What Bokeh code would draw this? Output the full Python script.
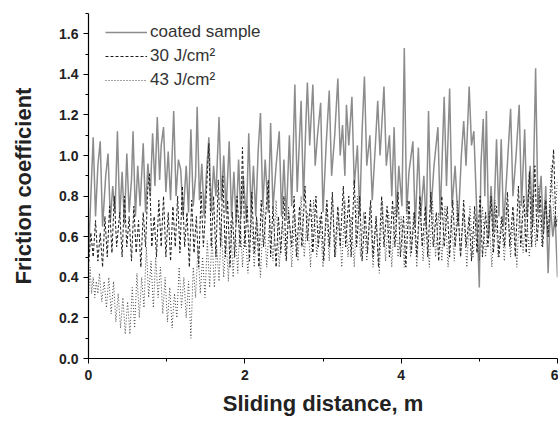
from bokeh.plotting import figure
from bokeh.models import Range1d, FixedTicker, PrintfTickFormatter, Legend, LegendItem
from bokeh.embed import file_html
from bokeh.resources import INLINE

# ---- data ----
coated_x = [0.00,0.03,0.06,0.09,0.12,0.15,0.18,0.22,0.25,0.28,0.31,0.34,0.37,0.40,0.43,0.46,0.49,0.52,0.55,0.57,
            0.60,0.63,0.66,0.70,0.73,0.76,0.79,0.82,0.85,0.88,0.91,0.93,0.96,0.99,1.02,1.05,1.09,1.12,1.15,1.18,
            1.21,1.25,1.28,1.31,1.34,1.37,1.39,1.42,1.45,1.48,1.51,1.54,1.57,1.60,1.63,1.67,1.70,1.73,1.76,1.80,
            1.83,1.86,1.89,1.92,1.95,1.98,2.02,2.05,2.08,2.11,2.14,2.17,2.20,2.23,2.26,2.30,2.33,2.36,2.40,2.44,
            2.47,2.50,2.53,2.57,2.60,2.64,2.67,2.72,2.75,2.78,2.80,2.83,2.87,2.90,2.93,2.97,3.00,3.04,3.08,3.11,
            3.15,3.19,3.22,3.25,3.28,3.30,3.33,3.37,3.40,3.44,3.47,3.50,3.53,3.56,3.60,3.63,3.67,3.70,3.73,3.78,
            3.81,3.85,3.88,3.91,3.94,3.97,4.01,4.04,4.07,4.10,4.15,4.18,4.22,4.25,4.29,4.32,4.35,4.38,4.42,4.47,
            4.50,4.55,4.58,4.62,4.65,4.69,4.73,4.77,4.80,4.83,4.87,4.90,4.93,4.96,5.00,5.02,5.05,5.07,5.09,5.12,
            5.15,5.18,5.22,5.25,5.28,5.31,5.35,5.40,5.43,5.47,5.51,5.54,5.58,5.61,5.65,5.68,5.72,5.75,5.79,5.82,
            5.85,5.88,5.91,5.94,5.97,6.00]
coated_y = [0.50,0.80,1.09,0.70,0.95,1.07,0.65,0.90,1.01,0.68,0.85,0.72,1.12,0.70,0.92,0.66,1.01,0.72,0.88,1.12,
            0.70,0.95,0.75,1.06,0.72,0.96,0.80,1.11,0.85,1.19,0.88,1.05,1.14,0.82,1.02,0.78,1.22,0.80,0.98,0.93,
            0.70,0.95,0.72,1.13,0.75,0.90,1.24,0.78,0.96,0.70,0.92,1.09,0.72,0.95,0.80,1.19,0.78,1.00,0.72,1.07,
            0.70,0.92,0.66,0.98,0.70,0.90,0.68,1.11,0.72,0.95,0.70,1.02,1.21,0.75,0.98,0.72,1.16,0.74,0.95,1.12,
            0.70,0.98,0.68,1.10,0.75,1.35,0.82,1.27,0.78,1.15,1.36,1.05,1.35,0.95,1.10,1.26,0.72,1.05,1.32,0.90,
            1.10,1.38,1.00,1.15,0.90,1.25,1.05,1.29,0.85,1.05,0.70,1.12,1.39,0.95,1.10,0.78,1.05,1.27,1.00,1.34,
            0.95,1.10,0.80,1.14,0.70,0.95,0.75,1.53,0.72,0.92,1.07,0.65,1.04,0.70,0.90,0.65,1.22,0.72,0.95,1.14,
            0.70,1.29,0.85,1.33,0.75,0.95,0.66,1.00,1.17,0.95,1.34,1.05,1.12,0.80,0.35,0.95,1.18,0.80,1.22,0.60,
            0.85,0.62,1.08,0.70,1.08,0.65,0.90,1.23,0.80,1.00,1.25,0.75,1.13,0.70,0.95,0.65,1.43,0.72,0.90,0.62,
            0.85,0.42,0.75,0.60,0.70,0.40]

j30_x = [0.00,0.03,0.06,0.09,0.12,0.15,0.18,0.21,0.24,0.27,0.30,0.33,0.36,0.40,0.43,0.46,0.49,0.52,0.55,0.58,
         0.61,0.64,0.67,0.70,0.73,0.76,0.78,0.81,0.84,0.87,0.90,0.93,0.96,0.99,1.02,1.05,1.08,1.11,1.14,1.17,
         1.20,1.23,1.26,1.29,1.32,1.35,1.38,1.41,1.44,1.47,1.50,1.54,1.57,1.60,1.63,1.66,1.69,1.72,1.75,1.78,
         1.81,1.84,1.87,1.90,1.94,1.97,2.00,2.03,2.06,2.09,2.12,2.15,2.18,2.21,2.24,2.27,2.30,2.33,2.36,2.40,
         2.43,2.46,2.50,2.53,2.56,2.60,2.63,2.66,2.70,2.73,2.77,2.80,2.84,2.87,2.91,2.94,2.98,3.01,3.05,3.08,
         3.12,3.15,3.19,3.22,3.26,3.29,3.33,3.36,3.40,3.43,3.47,3.50,3.54,3.57,3.61,3.64,3.68,3.71,3.75,3.78,
         3.82,3.85,3.89,3.92,3.96,3.99,4.03,4.06,4.10,4.13,4.17,4.20,4.24,4.27,4.31,4.34,4.38,4.41,4.45,4.48,
         4.52,4.55,4.59,4.62,4.66,4.69,4.73,4.76,4.80,4.83,4.87,4.90,4.94,4.97,5.01,5.04,5.08,5.11,5.15,5.18,
         5.22,5.25,5.29,5.32,5.36,5.39,5.43,5.46,5.50,5.53,5.57,5.60,5.64,5.67,5.71,5.74,5.78,5.81,5.85,5.88,
         5.92,5.95,5.98,6.00]
j30_y = [0.45,0.62,0.50,0.68,0.48,0.62,0.45,0.70,0.50,0.75,0.52,0.80,0.55,0.72,0.50,0.80,0.55,0.70,0.48,0.75,
         0.52,0.68,0.45,0.72,0.55,0.85,0.91,0.55,0.70,0.50,0.78,0.55,0.80,0.50,0.72,0.48,0.75,0.55,0.80,0.52,
         0.85,0.55,0.72,0.45,0.78,0.52,0.70,0.45,0.82,0.55,0.75,1.06,0.55,0.80,0.50,0.88,0.55,0.90,0.50,0.78,
         0.45,0.72,0.50,0.80,0.55,1.04,0.55,0.75,0.48,0.82,0.52,0.70,0.45,0.78,0.55,0.72,0.88,0.50,0.75,0.45,
         0.70,0.52,0.80,0.48,0.72,0.55,0.80,0.50,0.75,0.55,0.85,0.58,0.78,0.52,0.80,0.55,0.72,0.48,0.78,0.55,
         0.82,0.50,0.75,0.55,0.85,0.55,0.80,0.50,0.88,0.55,0.80,0.48,0.72,0.52,0.78,0.50,0.70,0.45,0.80,0.55,
         0.75,0.50,0.78,0.55,0.82,0.50,0.70,0.45,0.78,0.52,0.72,0.50,0.80,0.55,0.75,0.50,0.82,0.55,0.72,0.48,
         0.80,0.55,0.75,0.50,0.78,0.55,0.72,0.50,0.78,0.55,0.70,0.48,0.75,0.52,0.80,0.50,0.72,0.55,0.80,0.52,
         0.75,0.50,0.70,0.55,0.82,0.55,0.75,0.50,0.85,0.55,0.80,0.52,0.92,0.55,0.95,0.58,0.80,0.55,0.78,0.60,
         0.85,1.03,0.65,0.70]

j43_x = [0.00,0.02,0.04,0.06,0.08,0.10,0.12,0.14,0.17,0.20,0.23,0.26,0.29,0.32,0.35,0.38,0.41,0.44,0.47,0.50,
         0.53,0.56,0.59,0.62,0.65,0.68,0.71,0.74,0.77,0.80,0.83,0.86,0.89,0.92,0.95,0.98,1.01,1.04,1.07,1.10,
         1.13,1.16,1.19,1.22,1.25,1.28,1.31,1.34,1.37,1.40,1.43,1.46,1.49,1.52,1.55,1.58,1.61,1.64,1.67,1.70,
         1.73,1.76,1.79,1.82,1.85,1.88,1.91,1.94,1.97,2.00,2.04,2.08,2.12,2.16,2.20,2.24,2.28,2.32,2.36,2.40,
         2.44,2.48,2.52,2.56,2.60,2.64,2.68,2.72,2.76,2.80,2.84,2.88,2.92,2.96,3.00,3.04,3.08,3.12,3.16,3.20,
         3.24,3.28,3.32,3.36,3.40,3.44,3.48,3.52,3.56,3.60,3.64,3.68,3.72,3.76,3.80,3.84,3.88,3.92,3.96,4.00,
         4.04,4.08,4.12,4.16,4.20,4.24,4.28,4.32,4.36,4.40,4.44,4.48,4.52,4.56,4.60,4.64,4.68,4.72,4.76,4.80,
         4.84,4.88,4.92,4.96,5.00,5.04,5.08,5.12,5.16,5.20,5.24,5.28,5.32,5.36,5.40,5.44,5.48,5.52,5.56,5.60,
         5.64,5.68,5.72,5.76,5.80,5.84,5.88,5.92,5.96,6.00]
j43_y = [0.30,0.45,0.32,0.40,0.30,0.38,0.32,0.42,0.28,0.38,0.25,0.40,0.22,0.38,0.18,0.32,0.15,0.30,0.12,0.28,
         0.12,0.35,0.15,0.42,0.20,0.40,0.25,0.55,0.30,0.48,0.25,0.50,0.30,0.45,0.22,0.40,0.18,0.35,0.15,0.32,
         0.20,0.45,0.25,0.40,0.20,0.38,0.10,0.45,0.30,0.55,0.32,0.50,0.30,0.58,0.35,0.60,0.35,0.55,0.38,0.65,
         0.40,0.60,0.38,0.68,0.40,0.62,0.42,0.70,0.45,0.65,0.42,0.72,0.45,0.68,0.40,0.75,0.45,0.70,0.48,0.78,
         0.45,0.68,0.50,0.75,0.45,0.70,0.48,0.80,0.50,0.72,0.45,0.78,0.50,0.70,0.45,0.75,0.48,0.80,0.50,0.72,
         0.45,0.78,0.50,0.70,0.45,0.80,0.50,0.72,0.48,0.75,0.45,0.70,0.42,0.78,0.48,0.72,0.45,0.75,0.50,0.70,
         0.45,0.78,0.50,0.72,0.45,0.75,0.48,0.70,0.45,0.78,0.50,0.72,0.48,0.75,0.45,0.70,0.48,0.78,0.50,0.72,
         0.45,0.75,0.50,0.70,0.48,0.75,0.50,0.72,0.45,0.78,0.50,0.70,0.48,0.75,0.50,0.72,0.45,0.78,0.52,0.75,
         0.50,0.80,0.55,0.85,0.55,0.78,0.60,0.95,0.65,0.88]

x_ticks = [0, 2, 4, 6]
y_ticks = [0.0, 0.2, 0.4, 0.6, 0.8, 1.0, 1.2, 1.4, 1.6]
labels = ["coated sample", "30 J/cm\u00b2", "43 J/cm\u00b2"]

FONT = "Liberation Sans"

p = figure(width=558, height=423, output_backend="svg", toolbar_location=None,
           x_range=Range1d(0, 6), y_range=Range1d(0, 1.7),
           min_border_left=88, min_border_right=1, min_border_top=13, min_border_bottom=65)
p.outline_line_color = None
p.xgrid.visible = False
p.ygrid.visible = False
p.background_fill_color = "white"

r1 = p.line(coated_x, coated_y, line_color="#8c8c8c", line_width=1.5)
r2 = p.line(j30_x, j30_y, line_color="#1a1a1a", line_width=1.0, line_dash="3 2")
r3 = p.line(j43_x, j43_y, line_color="#444444", line_width=1.0, line_dash="1 2")

for ax in (p.xaxis[0], p.yaxis[0]):
    ax.axis_line_color = "black"
    ax.axis_line_width = 1.2
    ax.major_tick_line_color = "black"
    ax.minor_tick_line_color = "black"
    ax.major_tick_out = 5
    ax.major_tick_in = 0
    ax.minor_tick_out = 3
    ax.minor_tick_in = 0
    ax.major_label_text_font = FONT
    ax.major_label_text_font_style = "bold"
    ax.major_label_text_font_size = "14px"
    ax.major_label_text_color = "#222222"
    ax.axis_label_text_font = FONT
    ax.axis_label_text_font_style = "bold"
    ax.axis_label_text_font_size = "22px"
    ax.axis_label_text_color = "#222222"

p.xaxis.ticker = FixedTicker(ticks=x_ticks, minor_ticks=[1, 3, 5])
p.yaxis.ticker = FixedTicker(ticks=y_ticks,
                             minor_ticks=[0.1, 0.3, 0.5, 0.7, 0.9, 1.1, 1.3, 1.5, 1.7])
p.yaxis.formatter = PrintfTickFormatter(format="%.1f")
p.xaxis.axis_label = "Sliding distance, m"
p.yaxis.axis_label = "Friction coefficient"
p.xaxis.major_label_standoff = 6
p.xaxis.axis_label_standoff = 8
p.yaxis.major_label_standoff = 5
p.yaxis.axis_label_standoff = 20

legend = Legend(items=[LegendItem(label=labels[0], renderers=[r1]),
                       LegendItem(label=labels[1], renderers=[r2]),
                       LegendItem(label=labels[2], renderers=[r3])],
                location=(17, 267), margin=0, padding=0, spacing=2,
                glyph_width=42, glyph_height=22, label_height=22, label_standoff=3,
                background_fill_alpha=0, border_line_color=None,
                label_text_font=FONT, label_text_font_size="17px", label_text_color="#333333")
p.add_layout(legend, "center")

open("out.html", "w").write(file_html(p, INLINE))
